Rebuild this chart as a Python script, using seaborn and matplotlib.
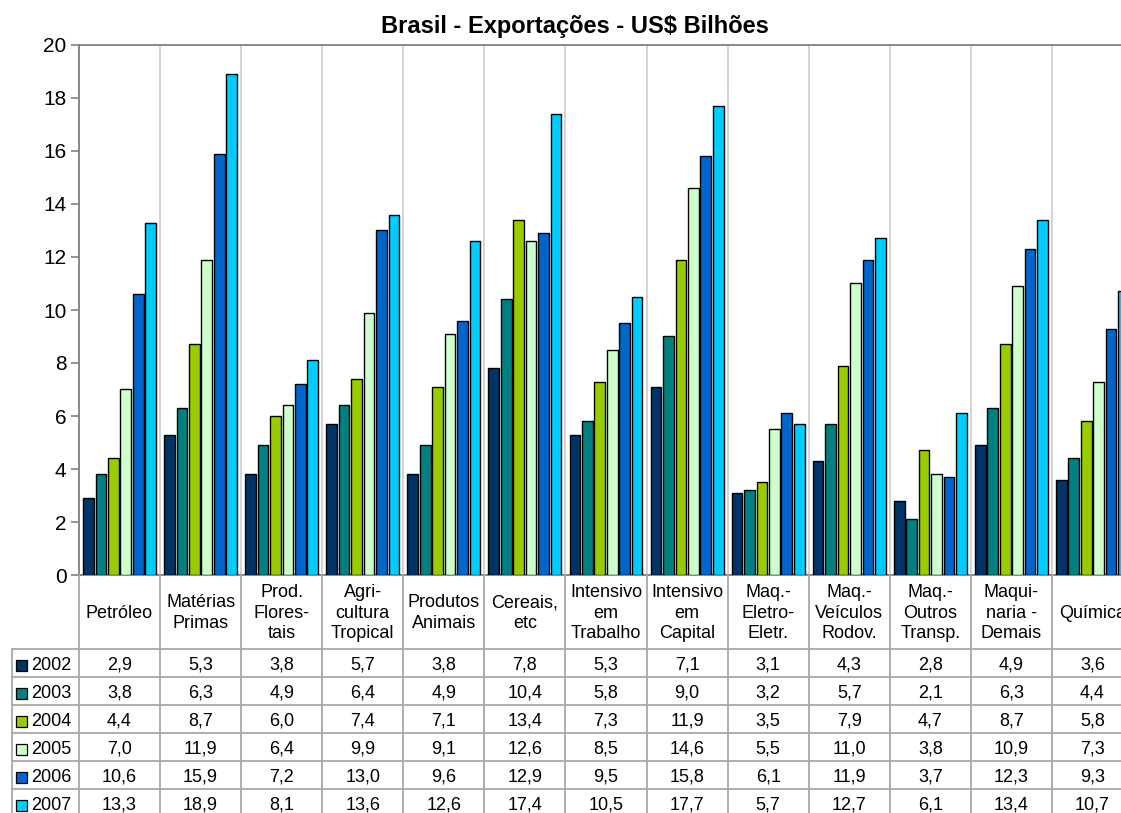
import numpy as np
import pandas as pd
import seaborn as sns
import matplotlib
matplotlib.use("Agg")
import matplotlib.pyplot as plt
from matplotlib.transforms import blended_transform_factory
from matplotlib.patches import Rectangle

categorias = ["Petróleo", "Matérias\nPrimas", "Prod.\nFlores-\ntais", "Agri-\ncultura\nTropical",
              "Produtos\nAnimais", "Cereais,\netc", "Intensivo\nem\nTrabalho", "Intensivo\nem\nCapital",
              "Maq.-\nEletro-\nEletr.", "Maq.-\nVeículos\nRodov.", "Maq.-\nOutros\nTransp.",
              "Maqui-\nnaria -\nDemais", "Química"]
anos = ["2002", "2003", "2004", "2005", "2006", "2007"]
v2002 = [2.9, 5.3, 3.8, 5.7, 3.8, 7.8, 5.3, 7.1, 3.1, 4.3, 2.8, 4.9, 3.6]
v2003 = [3.8, 6.3, 4.9, 6.4, 4.9, 10.4, 5.8, 9.0, 3.2, 5.7, 2.1, 6.3, 4.4]
v2004 = [4.4, 8.7, 6.0, 7.4, 7.1, 13.4, 7.3, 11.9, 3.5, 7.9, 4.7, 8.7, 5.8]
v2005 = [7.0, 11.9, 6.4, 9.9, 9.1, 12.6, 8.5, 14.6, 5.5, 11.0, 3.8, 10.9, 7.3]
v2006 = [10.6, 15.9, 7.2, 13.0, 9.6, 12.9, 9.5, 15.8, 6.1, 11.9, 3.7, 12.3, 9.3]
v2007 = [13.3, 18.9, 8.1, 13.6, 12.6, 17.4, 10.5, 17.7, 5.7, 12.7, 6.1, 13.4, 10.7]
series = [v2002, v2003, v2004, v2005, v2006, v2007]
cores = ["#003366", "#008080", "#99CC00", "#CCFFCC", "#0066CC", "#00CCFF"]

df = pd.DataFrame([
    {"categoria": c, "ano": a, "valor": v}
    for a, vals in zip(anos, series)
    for c, v in zip(categorias, vals)
])

sns.set_theme(style="white")
plt.rcParams["font.family"] = ["Liberation Sans", "DejaVu Sans"]
plt.rcParams["text.color"] = "black"

W, H = 1121, 813
fig = plt.figure(figsize=(W / 100, H / 100), dpi=100)

# plot area in pixels: left 79, right 1133 (runs past the right edge), top 45, bottom 575
x0, x1, yt, yb = 79, 1133, 45, 575
ax = fig.add_axes([x0 / W, (H - yb) / H, (x1 - x0) / W, (yb - yt) / H])

sns.barplot(data=df, x="categoria", y="valor", hue="ano", palette=cores, saturation=1,
            width=0.92, gap=0.14, edgecolor="black", linewidth=1.0,
            legend=False, ax=ax, zorder=3)

n = len(categorias)
ax.set_xlim(-0.5, n - 0.5)
ax.set_ylim(0, 20)
ax.set_yticks(range(0, 21, 2))
ax.set_xticks([])
ax.set_xlabel("")
ax.set_ylabel("")
for b in np.arange(-0.5, n, 1.0):
    ax.axvline(b, color="#d0d0d0", lw=1.3, zorder=1)
for s in ax.spines.values():
    s.set_color("#808080")
    s.set_linewidth(1.3)
ax.tick_params(axis="y", direction="out", length=6, width=1.2, color="#808080",
               labelsize=15, labelcolor="black", pad=3, left=True)

fig.text(575 / W, 1 - 27 / H, "Brasil - Exportações - US$ Bilhões", ha="center", va="center",
         fontsize=17, fontweight="bold", color="black")

# data table below the plot: x follows the category axis, y in figure pixels
pix = fig.add_axes([0, 0, 1, 1], facecolor="none")
pix.set_xlim(0, W)
pix.set_ylim(H, 0)
pix.axis("off")
tr = blended_transform_factory(ax.transData, pix.transData)

linha = "#a8a8a8"
hdr_bot = 649
row_h = 28
rows_bot = hdr_bot + row_h * len(anos)
tab_left = 12
fs = 13

for b in np.arange(-0.5, n, 1.0):
    pix.plot([b, b], [yb, rows_bot], color=linha, lw=1.3, transform=tr, clip_on=False)
for k in range(len(anos) + 1):
    y = hdr_bot + k * row_h
    pix.plot([tab_left, W + 20], [y, y], color=linha, lw=1.3, clip_on=False)
pix.plot([tab_left, tab_left], [hdr_bot, rows_bot], color=linha, lw=1.3, clip_on=False)

for i, c in enumerate(categorias):
    pix.text(i, (yb + hdr_bot) / 2 + 1, c, transform=tr, ha="center", va="center",
             fontsize=fs, linespacing=1.27, clip_on=False)

for k, (a, vals, cor) in enumerate(zip(anos, series, cores)):
    yc = hdr_bot + k * row_h + row_h / 2 + 2
    pix.add_patch(Rectangle((16, yc - 5.5), 11, 11, facecolor=cor, edgecolor="black", lw=0.9))
    pix.text(31, yc, a, ha="left", va="center", fontsize=fs)
    for i, v in enumerate(vals):
        pix.text(i, yc, f"{v:.1f}".replace(".", ","), transform=tr, ha="center",
                 va="center", fontsize=fs, clip_on=False)

fig.savefig("out.png", dpi=100)
